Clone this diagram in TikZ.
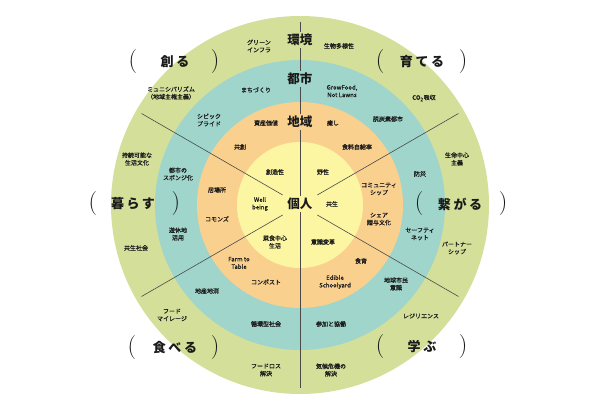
\documentclass[tikz,border=0pt]{standalone}
\usepackage{fontspec}
\usepackage{xcolor}
\usepackage{tikz}
\newfontfamily\jp{Noto Sans CJK JP}
\newfontfamily\jpetiq[FakeBold=0.6]{Noto Sans CJK JP}
\newfontfamily\jpverbe[LetterSpace=20]{Noto Sans CJK JP}
\definecolor{vertpale}{HTML}{D4DF9A}
\definecolor{turquoise}{HTML}{A0D5CB}
\definecolor{orangepale}{HTML}{FAD08F}
\definecolor{jaunepale}{HTML}{FCF6A3}
\definecolor{encre}{HTML}{1A1A1A}
\definecolor{gris}{HTML}{4A4A4A}

\begin{document}
\begin{tikzpicture}[x=1pt,y=1pt]
% Styles (MODIFIABLES)
\tikzstyle{rayon}=[draw=gris,line width=0.6pt]
\tikzstyle{titre}=[font=\jp\bfseries\fontsize{12.5}{12.5}\selectfont,text=encre,inner sep=2pt]
\tikzstyle{etiquette}=[font=\jpetiq\fontsize{6}{7.5}\selectfont,text=encre,align=center,inner sep=1pt]
\tikzstyle{verbe}=[font=\jpverbe\bfseries\fontsize{13}{13}\selectfont,text=encre]
\tikzstyle{parenthese}=[font=\fontsize{24}{24}\selectfont,text=encre,inner sep=0pt]
% Dimensions (MODIFIABLES)
\def\RayonEnvironnement{189}
\def\RayonVille{145}
\def\RayonRegion{103}
\def\RayonIndividu{63}
\def\RayonInterieur{20}
\def\RayonExterieur{183}
% Cadre
\useasboundingbox (-300,-196) rectangle (297,205);
% Anneaux
\fill[vertpale] (0,0) circle (\RayonEnvironnement);
\fill[turquoise] (0,0) circle (\RayonVille);
\fill[orangepale] (0,0) circle (\RayonRegion);
\fill[jaunepale] (0,0) circle (\RayonIndividu);
% Titres
\node[titre] (Env) at (0,165) {環境};
\node[titre] (Ville) at (0,126) {都市};
\node[titre] (Region) at (0,83) {地域};
\node[titre] (Indiv) at (0,1) {個人};
% Verbes
\node[verbe] (Ka) at (-125,143) {創る};
\node[parenthese] (KaG) at (-167,143) {(};
\node[parenthese] (KaD) at (-85,143) {)};
\node[verbe] (Kb) at (122,143) {育てる};
\node[parenthese] (KbG) at (80,143) {(};
\node[parenthese] (KbD) at (163,143) {)};
\node[verbe] (Kc) at (-167,1) {暮らす};
\node[parenthese] (KcG) at (-207,1) {(};
\node[parenthese] (KcD) at (-124,1) {)};
\node[verbe] (Kd) at (160,1) {繋がる};
\node[parenthese] (KdG) at (119,1) {(};
\node[parenthese] (KdD) at (203,1) {)};
\node[verbe] (Ke) at (-125,-143) {食べる};
\node[parenthese] (KeG) at (-168,-143) {(};
\node[parenthese] (KeD) at (-85,-143) {)};
\node[verbe] (Kf) at (122,-142) {学ぶ};
\node[parenthese] (KfG) at (80,-142) {(};
\node[parenthese] (KfD) at (163,-142) {)};
% Etiquettes : environnement
\node[etiquette] (Ea) at (-41,159) {グリーン\\インフラ};
\node[etiquette] (Eb) at (39,159) {生物多様性};
\node[etiquette] (Ec) at (-129,112) {ミュニシパリズム\\（地域主権主義）};
\node[etiquette] (Ed) at (124,107) {CO\textsubscript{2}吸収};
\node[etiquette] (Ee) at (-163,46) {持続可能な\\生活文化};
\node[etiquette] (Ef) at (157,46) {生命中心\\主義};
\node[etiquette] (Eg) at (-164,-43) {共生社会};
\node[etiquette] (Eh) at (157,-43) {パートナー\\シップ};
\node[etiquette] (Ei) at (-128,-110) {フード\\マイレージ};
\node[etiquette] (Ej) at (121,-111) {レジリエンス};
\node[etiquette] (Ek) at (-34,-165) {フードロス\\解決};
\node[etiquette] (El) at (31,-165) {気候危機の\\解決};
% Etiquettes : ville
\node[etiquette] (Va) at (-44,115) {まちづくり};
\node[etiquette] (Vb) at (42,114) {GrowFood,\\Not Lawns};
\node[etiquette] (Vc) at (-91,85) {シビック\\プライド};
\node[etiquette] (Vd) at (88,86) {脱炭素都市};
\node[etiquette] (Ve) at (-122,31) {都市の\\スポンジ化};
\node[etiquette] (Vf) at (120,31) {防災};
\node[etiquette] (Vg) at (-122,-29) {遊休地\\活用};
\node[etiquette] (Vh) at (120,-29) {セーフティ\\ネット};
\node[etiquette] (Vi) at (-93,-86) {地産地消};
\node[etiquette] (Vj) at (96,-79) {地球市民\\意識};
\node[etiquette] (Vk) at (-34,-119) {循環型社会};
\node[etiquette] (Vl) at (31,-119) {参加と協働};
% Etiquettes : region
\node[etiquette] (Ga) at (-34,82) {資産価値};
\node[etiquette] (Gb) at (33,82) {癒し};
\node[etiquette] (Gc) at (-60,58) {共創};
\node[etiquette] (Gd) at (57,58) {食料自給率};
\node[etiquette] (Ge) at (-83,15) {居場所};
\node[etiquette] (Gf) at (79,16) {コミュニティ\\シップ};
\node[etiquette] (Gg) at (-83,-14) {コモンズ};
\node[etiquette] (Gh) at (79,-14) {シェア\\贈与文化};
\node[etiquette] (Gi) at (-61,-58) {Farm to\\Table};
\node[etiquette] (Gj) at (61,-56) {食育};
\node[etiquette] (Gk) at (-34,-77) {コンポスト};
\node[etiquette] (Gl) at (35,-77) {Edible\\Schoolyard};
% Etiquettes : individu
\node[etiquette] (Ia) at (-25,33) {創造性};
\node[etiquette] (Ib) at (23,33) {野性};
\node[etiquette] (Ic) at (-40,1) {Well\\being};
\node[etiquette] (Id) at (32,1) {共生};
\node[etiquette] (Ie) at (-25,-37) {菜食中心\\生活};
\node[etiquette] (If) at (23,-37) {意識変革};
% Bouts des rayons
\coordinate (Bh) at (90:\RayonExterieur);
\coordinate (Bb) at (270:\RayonExterieur);
\coordinate (Ba) at (30:\RayonExterieur);
\coordinate (Bc) at (150:\RayonExterieur);
\coordinate (Bd) at (210:\RayonExterieur);
\coordinate (Bf) at (330:\RayonExterieur);
\coordinate (Ca) at (30:\RayonInterieur);
\coordinate (Cc) at (150:\RayonInterieur);
\coordinate (Cd) at (210:\RayonInterieur);
\coordinate (Cf) at (330:\RayonInterieur);
% Rayons
\draw[rayon] (Bh)--(Env);
\draw[rayon] (Env)--(Ville);
\draw[rayon] (Ville)--(Region);
\draw[rayon] (Region)--(Indiv);
\draw[rayon] (Indiv)--(Bb);
\draw[rayon] (Ca)--(Ba);
\draw[rayon] (Cc)--(Bc);
\draw[rayon] (Cd)--(Bd);
\draw[rayon] (Cf)--(Bf);
\end{tikzpicture}
\end{document}
